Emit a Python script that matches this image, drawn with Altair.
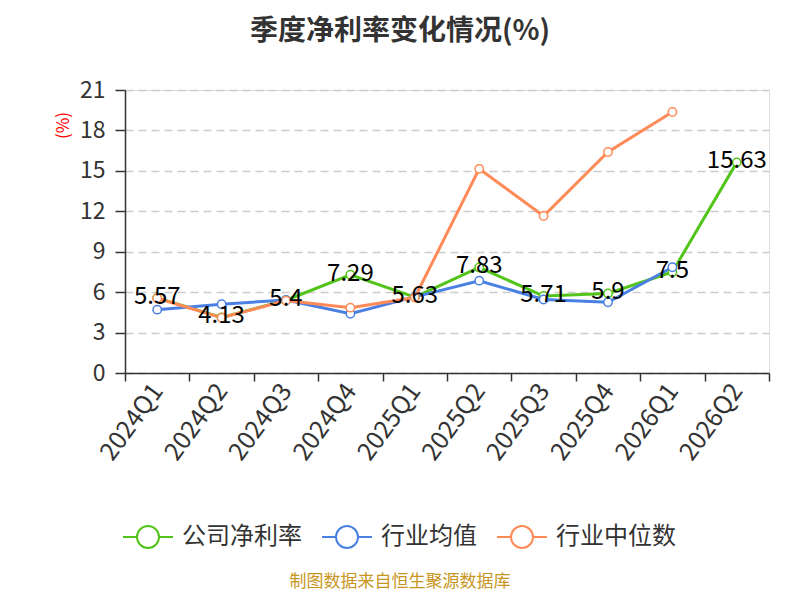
import altair as alt
import pandas as pd

quarters = ["2024Q1", "2024Q2", "2024Q3", "2024Q4", "2025Q1",
            "2025Q2", "2025Q3", "2025Q4", "2026Q1", "2026Q2"]
company = [5.57, 4.13, 5.4, 7.29, 5.63, 7.83, 5.71, 5.9, 7.5, 15.63]
company_labels = ["5.57", "4.13", "5.4", "7.29", "5.63", "7.83", "5.71", "5.9", "7.5", "15.63"]
industry_avg = [4.7, 5.1, 5.42, 4.4, 5.65, 6.85, 5.45, 5.25, 7.85, None]
industry_median = [5.55, 4.1, 5.37, 4.85, 5.6, 15.15, 11.65, 16.4, 19.37, None]

series_names = ["公司净利率", "行业均值", "行业中位数"]
series_colors = ["#52c41a", "#4a80e3", "#fe8a58"]
source_text = ["制图数据来自恒生聚源数据库"]

rows = []
for name, vals in zip(series_names, [company, industry_avg, industry_median]):
    for q, v in zip(quarters, vals):
        if v is not None:
            rows.append({"quarter": q, "series": name, "value": v,
                         "order": series_names.index(name)})
df = pd.DataFrame(rows)
lab = pd.DataFrame({"quarter": quarters, "value": company, "label": company_labels})
src = pd.DataFrame({"text": source_text})

font = "Noto Sans CJK SC"

x_enc = alt.X("quarter:N", sort=quarters, bandPosition=0.5,
              scale=alt.Scale(type="band", paddingInner=0, paddingOuter=0),
              axis=alt.Axis(title=None, labelAngle=-54, labelAlign="right",
                            labelBaseline="middle", labelFontSize=25,
                            labelColor="#333333", labelPadding=5,
                            tickBand="extent", tickSize=8, tickColor="#333333",
                            tickWidth=1.5, domainColor="#333333", domainWidth=1.5,
                            grid=False, labelFont=font))
y_enc = alt.Y("value:Q", scale=alt.Scale(domain=[0, 21], nice=False),
              axis=alt.Axis(values=[0, 3, 6, 9, 12, 15, 18, 21], title="(%)",
                            titleColor="red", titleFontSize=17, titleFontWeight="normal",
                            titleX=-62, titleY=35, titleAngle=-90, titleAlign="center",
                            titleBaseline="middle", titleFont=font,
                            labelFontSize=23, labelColor="#333333", labelPadding=10,
                            labelFont=font,
                            tickSize=10, tickColor="#333333", tickWidth=1.5,
                            domainColor="#333333", domainWidth=1.5,
                            grid=True, gridColor="#cccccc", gridDash=[8, 5],
                            gridWidth=1.5))

color_enc = alt.Color("series:N",
                      scale=alt.Scale(domain=series_names, range=series_colors),
                      legend=alt.Legend(title=None, orient="none", legendX=-3,
                                        legendY=421, direction="horizontal",
                                        symbolType="M-1,0L-0.44,0M0.44,0L1,0M-0.44,0A0.44,0.44,0,1,0,0.44,0A0.44,0.44,0,1,0,-0.44,0Z",
                                        symbolSize=2500, symbolStrokeWidth=2,
                                        symbolFillColor="white",
                                        labelFontSize=24, labelColor="#333333",
                                        labelFont=font, labelOffset=8,
                                        columnPadding=16))

lines = alt.Chart(df).mark_line(strokeWidth=3).encode(
    x=x_enc, y=y_enc, color=color_enc, order=alt.Order("order:Q"))

points = alt.Chart(df).mark_point(filled=False, fill="white", size=70,
                                  strokeWidth=1.5, opacity=1).encode(
    x=x_enc, y=y_enc, color=alt.Color("series:N",
                                      scale=alt.Scale(domain=series_names, range=series_colors),
                                      legend=None))

labels = alt.Chart(lab).mark_text(fontSize=24, color="#000000", font=font,
                                  baseline="middle", dy=-1).encode(
    x=x_enc, y=y_enc, text="label:N")

source = alt.Chart(src).mark_text(fontSize=17, color="#c8961e", font=font,
                                  baseline="middle").encode(
    x=alt.value(275), y=alt.value(492), text="text:N")

chart = alt.layer(lines, points, labels, source).properties(
    width=644, height=283,
    autosize=alt.AutoSizeParams(type="none"),
    padding={"left": 117, "top": 82, "right": 23, "bottom": 219},
    title=alt.TitleParams("季度净利率变化情况(%)", fontSize=28, font=font,
                          fontWeight="bold", color="#333333", anchor="middle",
                          dx=-47, offset=33),
).configure_view(stroke=None).configure(background="white")

chart.save("out.html", embed_options={"renderer": "svg", "actions": False})
